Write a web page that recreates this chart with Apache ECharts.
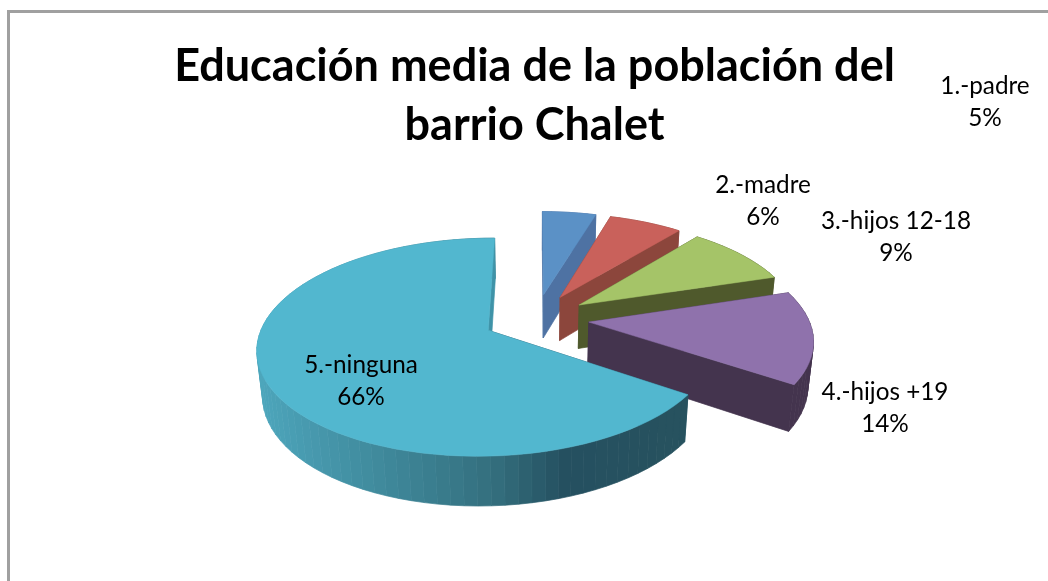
<!DOCTYPE html>
<html><head><meta charset="utf-8">
<style>html,body{margin:0;padding:0;background:#fff}#c{width:1048px;height:581px}</style>
<script src="https://cdn.jsdelivr.net/npm/echarts@6/dist/echarts.min.js"></script>
</head><body><div id="c"></div>
<script>
const titleText = 'Educación media de la población del\nbarrio Chalet';
const categories = ['1.-padre', '2.-madre', '3.-hijos 12-18', '4.-hijos +19', '5.-ninguna'];
const values = [4.6, 6.3, 9.3, 14.2, 65.6];

const topColors = ['#5B91C6', '#C9615B', '#A5C468', '#8F72AC', '#52B7CF'];
const wallColors = ['#4E72A3', '#8C463C', '#4F592C', '#44344E', '#27525F'];
const rimStops = [[257,[77,166,188]],[400,[62,134,152]],[500,[52,111,126]],[570,[37,80,96]],[690,[39,82,95]]];
const labelSpots = [[985,102.5],[763,201],[896,237.5],[885,408],[361,381]];

const view = {cx:536, cy:318.5, rx:221.5, ry:102.7, k:0.152, j:0.006, explode:0.24, depth:45, sink:0.02};
const total = values.reduce((a,b)=>a+b,0);

function project(u,v,low){
  const d = 1 - view.k*v + view.j*u + (low?view.sink:0);
  return [view.cx + view.rx*u/d, view.cy + (view.ry*v + (low?view.depth:0))/d];
}
function rimColor(x){
  for(let i=1;i<rimStops.length;i++){
    if(x<=rimStops[i][0]){
      const a=rimStops[i-1], b=rimStops[i], t=Math.max(0,(x-a[0])/(b[0]-a[0]));
      const c=a[1].map((p,n)=>Math.round(p+(b[1][n]-p)*t));
      return 'rgb('+c.join(',')+')';
    }
  }
  return 'rgb('+rimStops[rimStops.length-1][1].join(',')+')';
}
function quad(a,b,fill){
  return {type:'polygon',shape:{points:[project(a[0],a[1],false),project(b[0],b[1],false),project(b[0],b[1],true),project(a[0],a[1],true)]},
    style:{fill:fill,stroke:fill,lineWidth:0.7}};
}
function renderItem(params,api){
  const i=params.dataIndex, value=api.value(0);
  let before=0; for(let n=0;n<i;n++) before+=values[n];
  const a0=before/total*2*Math.PI, a1=(before+value)/total*2*Math.PI, mid=(a0+a1)/2;
  const ox=view.explode*Math.sin(mid), oy=-view.explode*Math.cos(mid);
  const at=a=>[ox+Math.sin(a),oy-Math.cos(a)];
  const apex=[ox,oy], steps=Math.max(4,Math.round((a1-a0)/(Math.PI/60)));
  const arc=[]; for(let s=0;s<=steps;s++) arc.push(at(a0+(a1-a0)*s/steps));
  const children=[];
  children.push(quad(apex,arc[0],i===4?'#2A5A6C':wallColors[i]));
  for(let s=0;s<steps;s++){
    const p=project(arc[s][0],arc[s][1],false);
    children.push(quad(arc[s],arc[s+1],i===4?rimColor(p[0]):wallColors[i]));
  }
  children.push(quad(apex,arc[steps],i===4?'#3F93A8':wallColors[i]));
  const top=[project(apex[0],apex[1],false)].concat(arc.map(q=>project(q[0],q[1],false)));
  children.push({type:'polygon',shape:{points:top},style:{fill:topColors[i],stroke:topColors[i],lineWidth:0.5}});
  children.push({type:'text',style:{x:labelSpots[i][0],y:labelSpots[i][1],text:categories[i]+'\n'+Math.round(value)+'%',
    align:'center',verticalAlign:'middle',fontFamily:'Lato',fontSize:24.3,lineHeight:32,fill:'#000'}});
  return {type:'group',children:children};
}
const chart=echarts.init(document.getElementById('c'),null,{renderer:'canvas'});
chart.setOption({
  animation:false,
  backgroundColor:'#fff',
  title:{text:titleText,left:529.5,top:32,textAlign:'center',
    textStyle:{fontFamily:'Lato',fontWeight:'bold',fontSize:45,lineHeight:59,color:'#000'}},
  graphic:[{type:'polyline',shape:{points:[[8.5,581],[8.5,11.5],[1048,11.5]]},style:{stroke:'#A0A0A0',lineWidth:3,fill:null},silent:true}],
  series:[{type:'custom',coordinateSystem:'none',data:values,renderItem:renderItem,silent:true}]
});
</script></body></html>
